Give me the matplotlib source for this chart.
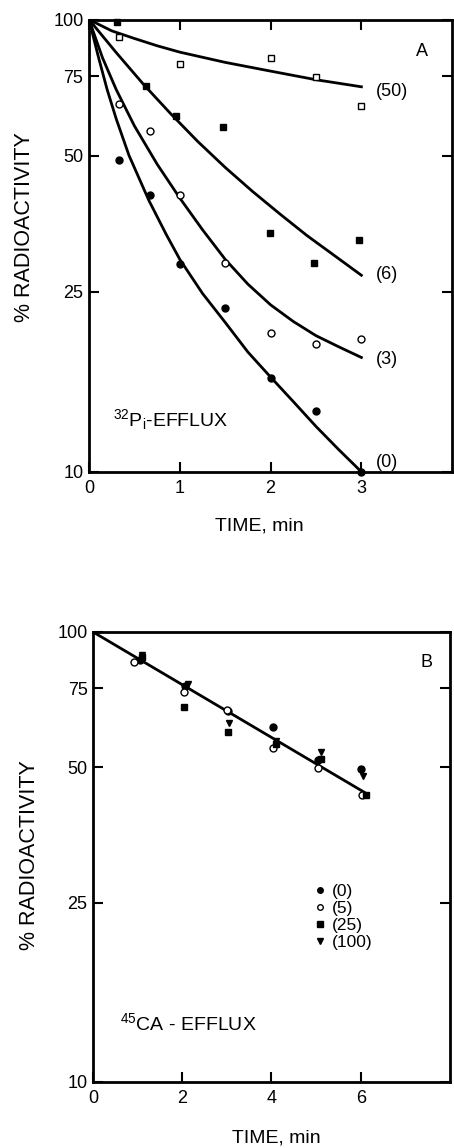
import numpy as np
import matplotlib
matplotlib.use('Agg')
import matplotlib.pyplot as plt
from matplotlib.ticker import NullLocator

plt.rcParams['font.family'] = ['Liberation Sans', 'DejaVu Sans']
plt.rcParams['mathtext.fontset'] = 'custom'
plt.rcParams['mathtext.rm'] = 'Liberation Sans'
plt.rcParams['mathtext.it'] = 'Liberation Sans'

# ---- panel A : 32Pi efflux, data points ----
tA = [0.33, 0.67, 1.0, 1.5, 2.0, 2.5, 3.0]
a0 = [49, 41, 28.8, 23, 16.1, 13.6, 10.0]        # (0) filled circles
a3 = [65, 56.6, 41, 29, 20.3, 19.2, 19.7]        # (3) open circles
t6 = [0.31, 0.63, 0.96, 1.48, 1.99, 2.48, 2.97]
a6 = [98.5, 71.2, 61.1, 57.8, 33.8, 29.0, 32.5]  # (6) filled squares
t50 = [0.33, 1.0, 2.0, 2.5, 3.0]
a50 = [91.6, 79.8, 82, 74.7, 64.5]               # (50) open squares

# fitted curves
c0_t = [0, 0.1, 0.2, 0.3, 0.44, 0.66, 0.85, 1.0, 1.25, 1.5, 1.75, 2.0, 2.25, 2.5, 2.75, 3.0]
c0_y = [100, 83.2, 70.0, 60.3, 50.1, 39.8, 33.5, 29.5, 24.8, 21.4, 18.4, 16.2, 14.3, 12.6, 11.2, 10.0]
c3_t = [0, 0.15, 0.3, 0.5, 0.75, 1.0, 1.25, 1.5, 1.75, 2.0, 2.25, 2.5, 2.75, 3.0]
c3_y = [100, 82.2, 70.0, 58.2, 47.9, 40.3, 34.3, 29.5, 26.0, 23.4, 21.5, 20.0, 18.9, 17.9]
c6_t = [0, 0.3, 0.6, 0.9, 1.2, 1.5, 1.8, 2.1, 2.4, 2.7, 3.0]
c6_y = [100, 84.5, 71.9, 61.9, 53.7, 47.1, 41.7, 37.2, 33.3, 30.1, 27.2]
c50_t = [0, 0.25, 0.5, 0.75, 1.0, 1.5, 2.0, 2.5, 3.0]
c50_y = [100, 94.4, 90.8, 87.5, 84.7, 80.4, 76.9, 73.6, 71.0]

curve_labels = ['(50)', '(6)', '(3)', '(0)']
label_y = [69.3, 27.3, 17.7, 10.5]

# ---- panel B : 45Ca efflux ----
b0_t = [1.05, 2.05, 3.03, 4.03, 5.05, 6.0]
b0 = [86.7, 76, 66.9, 61.6, 52, 49.6]
b5_t = [0.92, 2.04, 3.0, 4.03, 5.04, 6.02]
b5 = [85.6, 73.4, 67, 55.2, 49.8, 43.4]
b25_t = [1.09, 2.04, 3.03, 4.09, 5.12, 6.12]
b25 = [88, 68, 59.8, 56.4, 52.1, 43.4]
b100_t = [1.09, 2.13, 3.04, 4.11, 5.12, 6.05]
b100 = [88.9, 76.5, 62.7, 57.3, 54.2, 47.9]
fit_t = [0, 6.12]
fit_y = [100, 43.8]

yticks = [10, 25, 50, 75, 100]

fig = plt.figure(figsize=(4.54, 11.48), dpi=100)
axA = fig.add_axes([0.196, 0.589, 0.80, 0.394])
axB = fig.add_axes([0.205, 0.0575, 0.786, 0.392])

def style(ax, xmax, xticks, top):
    ax.set_yscale('log')
    ax.set_ylim(10, 100)
    ax.set_xlim(0, xmax)
    ax.set_yticks(yticks)
    ax.set_yticklabels([str(v) for v in yticks])
    ax.yaxis.set_minor_locator(NullLocator())
    ax.set_xticks(xticks)
    ax.set_xticklabels([str(v) for v in xticks])
    for s in ax.spines.values():
        s.set_linewidth(2)
    ax.tick_params(axis='x', direction='in', top=top, length=7, width=1.5,
                   labelsize=13, pad=6)
    ax.tick_params(axis='y', direction='in', right=True, length=7, width=1.5,
                   labelsize=13, pad=4)

style(axA, 4, [0, 1, 2, 3], True)
style(axB, 8, [0, 2, 4, 6], False)

lw = 2.0
for t, y in [(c0_t, c0_y), (c3_t, c3_y), (c6_t, c6_y), (c50_t, c50_y)]:
    axA.plot(t, y, color='black', lw=lw, solid_joinstyle='round')

axA.plot(tA, a0, 'o', color='black', ms=5, clip_on=False)
axA.plot(tA, a3, 'o', mfc='white', mec='black', mew=1, ms=5)
axA.plot(t6, a6, 's', color='black', ms=4.6, clip_on=False)
axA.plot(t50, a50, 's', mfc='white', mec='black', mew=1, ms=4.2)

for lab, y in zip(curve_labels, label_y):
    axA.text(3.16, y, lab, fontsize=13, ha='left', va='center')

axA.text(0.917, 0.929, 'A', transform=axA.transAxes, fontsize=13,
         ha='center', va='center')
axA.text(0.066, 0.115, r'$^{32}$P$_{\mathrm{i}}$-EFFLUX', transform=axA.transAxes,
         fontsize=14, ha='left', va='center')
axA.set_xlabel('TIME, min', fontsize=14)
axA.xaxis.set_label_coords(0.47, -0.10)
axA.set_ylabel('% RADIOACTIVITY', fontsize=15.5)
axA.yaxis.set_label_coords(-0.15, 0.54)

# panel B
axB.plot(fit_t, fit_y, color='black', lw=lw)
axB.plot(b0_t, b0, 'o', color='black', ms=5, label='(0)')
axB.plot(b5_t, b5, 'o', mfc='white', mec='black', mew=1, ms=5, label='(5)')
axB.plot(b25_t, b25, 's', color='black', ms=4.6, label='(25)')
axB.plot(b100_t, b100, 'v', color='black', ms=5, label='(100)')
axB.legend(loc='upper left', bbox_to_anchor=(0.62, 0.44), frameon=False,
           fontsize=12.5, handlelength=0.6, handletextpad=0.4,
           labelspacing=0.1, borderpad=0, borderaxespad=0, markerscale=0.8)

axB.text(0.933, 0.933, 'B', transform=axB.transAxes, fontsize=13,
         ha='center', va='center')
axB.text(0.076, 0.131, r'$^{45}$CA - EFFLUX', transform=axB.transAxes,
         fontsize=14, ha='left', va='center')
axB.set_xlabel('TIME, min', fontsize=14)
axB.xaxis.set_label_coords(0.513, -0.105)
axB.set_ylabel('% RADIOACTIVITY', fontsize=15.5)
axB.yaxis.set_label_coords(-0.15, 0.504)

fig.savefig('out.png', dpi=100)
